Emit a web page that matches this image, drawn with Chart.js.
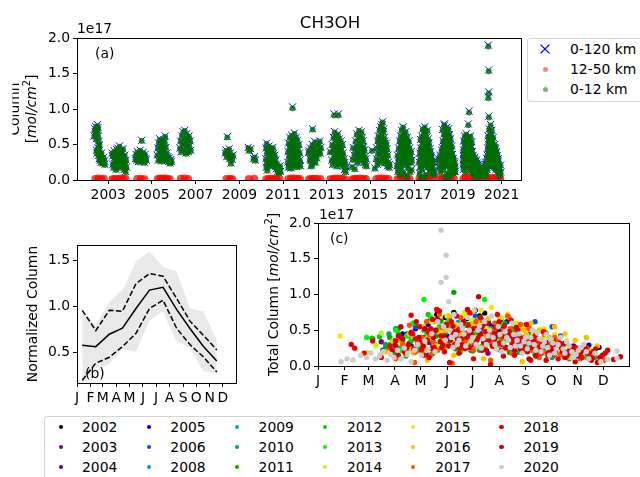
<!DOCTYPE html>
<html>
<head>
<meta charset="utf-8">
<script src="https://cdn.jsdelivr.net/npm/chart.js@4.4.1/dist/chart.umd.min.js"></script>
<style>
html, body { margin: 0; padding: 0; background: #fff; }
body { width: 640px; height: 477px; position: relative; overflow: hidden; font-family: "DejaVu Sans", sans-serif; }
canvas { position: absolute; left: 0; top: 0; }
.box { position: absolute; border: 1px solid #d4d4d4; border-radius: 3px; background: #fff; box-sizing: border-box; }
.lbl { position: absolute; font-size: 13.9px; line-height: 16px; white-space: nowrap; color: #000; }
.dot { position: absolute; border-radius: 50%; }
</style>
</head>
<body>
<canvas id="panelA" width="640" height="477"></canvas>
<canvas id="panelB" width="640" height="477"></canvas>
<canvas id="panelC" width="640" height="477"></canvas>
<div id="legendA" class="box" style="left:527px;top:38px;width:125px;height:64px;"></div>
<div id="legendYears" class="box" style="left:44px;top:416px;width:612px;height:70px;"></div>
<script>
// ---- measurement years and tick labels ----
const years = [2002, 2003, 2004, 2005, 2006, 2008, 2009, 2010, 2011, 2012, 2013, 2014, 2015, 2016, 2017, 2018, 2019, 2020];
const yearTicks = [2003, 2005, 2007, 2009, 2011, 2013, 2015, 2017, 2019, 2021];
const columnTicks = [0, 0.5, 1.0, 1.5, 2.0];
const normTicks = [0.5, 1.0, 1.5];
const monthLabels = ['J', 'F', 'M', 'A', 'M', 'J', 'J', 'A', 'S', 'O', 'N', 'D'];
const monthStartDays = [1, 32, 60, 91, 121, 152, 182, 213, 244, 274, 305, 335];
const seriesNames = ['0-120 km', '12-50 km', '0-12 km'];

// ---- columns per year: [day of year, 0-120 km column, 0-12 km column] (1e17 mol/cm2) ----
const col2002 = [[130,.62,.61],[140,.72,.70],[150,.68,.67],[160,.75,.74],[165,.58,.57],[175,.66,.65],[185,.78,.76],[190,.70,.69],[196,.74,.73],[200,.62,.61],[205,.55,.54],[210,.48,.47],[215,.50,.49],[170,.42,.41],[180,.38,.37],[192,.45,.44],[205,.35,.34],[215,.30,.29],[222,.42,.41],[225,.36,.35],[230,.28,.27],[240,.33,.32],[248,.25,.24],[255,.38,.37],[262,.30,.29],[270,.26,.25],[280,.24,.23],[290,.32,.31],[300,.27,.26],[310,.22,.21]];
const col2003 = [[65,.38,.37],[75,.34,.33],[77,.22,.21],[90,.18,.17],[98,.41,.40],[100,.27,.26],[108,.32,.31],[115,.20,.19],[120,.36,.35],[125,.25,.24],[130,.15,.14],[135,.30,.29],[140,.43,.42],[150,.35,.34],[160,.45,.44],[165,.28,.27],[172,.40,.39],[180,.22,.21],[188,.48,.47],[195,.33,.32],[200,.18,.17],[210,.42,.41],[218,.30,.29],[225,.25,.24],[232,.38,.37],[240,.20,.19],[248,.44,.43],[255,.32,.31],[262,.26,.25],[270,.15,.14],[278,.35,.34],[285,.22,.21],[292,.12,.11],[300,.28,.27],[305,.18,.17]];
const col2004 = [[90,.30,.29],[100,.36,.35],[110,.28,.27],[120,.40,.39],[130,.33,.32],[140,.26,.25],[150,.38,.37],[160,.31,.30],[170,.42,.41],[180,.29,.28],[195,.56,.55],[200,.35,.34],[210,.27,.26],[220,.39,.38],[230,.32,.31],[240,.25,.24],[250,.36,.35],[260,.30,.29],[270,.28,.27]];
const col2005 = [[90,.35,.34],[100,.45,.44],[108,.28,.27],[115,.52,.51],[122,.38,.37],[130,.58,.57],[138,.30,.29],[145,.48,.47],[152,.42,.41],[160,.55,.54],[165,.27,.26],[172,.36,.35],[180,.50,.49],[188,.44,.43],[195,.32,.31],[202,.57,.56],[210,.40,.39],[216,.53,.52],[222,.62,.61],[228,.34,.33],[235,.46,.45],[242,.28,.27],[250,.38,.37],[258,.30,.29],[268,.33,.32],[278,.26,.25],[290,.31,.30],[300,.27,.26],[306,.24,.23],[318,.29,.28],[330,.26,.25]];
const col2006 = [[105,.45,.44],[115,.55,.54],[125,.40,.39],[135,.62,.61],[145,.50,.49],[155,.68,.67],[165,.43,.42],[175,.58,.57],[185,.70,.69],[195,.52,.51],[205,.38,.37],[215,.65,.64],[225,.47,.46],[235,.57,.56],[245,.40,.39],[255,.62,.61],[265,.48,.47],[275,.55,.54],[285,.42,.41]];
const col2008 = [[130,.38,.37],[145,.42,.41],[155,.33,.32],[165,.61,.60],[175,.40,.39],[185,.36,.35],[195,.44,.43],[205,.30,.29],[215,.38,.37],[225,.24,.23],[235,.34,.33],[248,.29,.28],[260,.35,.34]];
const col2009 = [[150,.46,.45],[165,.42,.41],[190,.44,.43],[240,.30,.29],[255,.33,.32],[270,.28,.27]];
const col2010 = [[80,.30,.29],[84,.45,.44],[88,.18,.17],[92,.52,.51],[96,.25,.24],[100,.38,.37],[104,.14,.13],[108,.42,.41],[115,.22,.21],[122,.33,.32],[130,.48,.47],[138,.20,.19],[145,.36,.35],[152,.28,.27],[160,.44,.43],[168,.24,.23],[175,.40,.39],[182,.32,.31],[190,.22,.21],[198,.46,.45],[205,.30,.29],[212,.38,.37],[220,.26,.25],[228,.35,.34],[235,.19,.18],[245,.28,.27],[255,.16,.15],[265,.22,.21],[275,.12,.11],[285,.18,.17],[295,.10,.09],[305,.15,.14],[315,.20,.19],[325,.12,.11]];
const col2011 = [[80,.25,.24],[85,.40,.39],[90,.18,.17],[95,.52,.51],[100,.33,.32],[105,.22,.21],[110,.45,.44],[115,.60,.59],[120,.28,.27],[125,.38,.37],[130,.50,.49],[135,.17,.16],[140,.42,.41],[145,.63,.62],[150,.30,.29],[155,.55,.54],[160,1.03,1.01],[162,.24,.23],[168,.47,.46],[172,.36,.35],[178,.58,.57],[182,.21,.20],[188,.44,.43],[192,.66,.65],[198,.32,.31],[203,.52,.51],[208,.27,.26],[214,.40,.39],[220,.60,.59],[225,.19,.18],[230,.48,.47],[236,.35,.34],[242,.56,.55],[248,.26,.25],[254,.42,.41],[260,.31,.30],[266,.50,.49],[272,.22,.21],[278,.38,.37],[284,.28,.27],[290,.20,.19]];
const col2012 = [[64,.39,.38],[73,.41,.40],[85,.30,.29],[95,.45,.44],[102,.28,.27],[105,.20,.19],[110,.35,.34],[115,.38,.37],[118,.22,.21],[125,.50,.49],[130,.72,.71],[138,.27,.26],[148,.44,.43],[158,.33,.32],[168,.54,.53],[178,.25,.24],[188,.40,.39],[198,.31,.30],[208,.48,.47],[218,.37,.36],[228,.52,.51],[238,.42,.41],[248,.55,.54],[258,.38,.37],[268,.46,.45]];
const col2013 = [[58,.40,.39],[85,.28,.27],[92,.50,.49],[98,.22,.21],[105,.42,.41],[112,.60,.59],[118,.33,.32],[125,.93,.91],[128,.47,.46],[133,.68,.67],[138,.26,.25],[143,.55,.54],[148,.38,.37],[153,.62,.61],[158,.30,.29],[163,.48,.47],[168,.20,.19],[173,.57,.56],[178,.35,.34],[183,.45,.44],[188,.65,.64],[193,.28,.27],[196,.93,.91],[200,.52,.51],[205,.40,.39],[210,.24,.23],[215,.58,.57],[220,.36,.35],[226,.47,.46],[232,.30,.29],[238,.55,.54],[244,.22,.21],[250,.42,.41],[256,.33,.32],[262,.50,.49],[268,.27,.26],[275,.38,.37],[282,.20,.19],[290,.30,.29],[298,.15,.14],[306,.25,.24],[315,.12,.11],[325,.18,.17]];
const col2014 = [[59,.19,.18],[69,.29,.28],[75,.46,.45],[95,.35,.34],[105,.16,.15],[112,.42,.41],[120,.55,.54],[126,.30,.29],[132,.48,.47],[138,.65,.64],[144,.38,.37],[150,.25,.24],[156,.58,.57],[162,.44,.43],[168,.33,.32],[174,.70,.69],[180,.52,.51],[186,.28,.27],[192,.62,.61],[198,.40,.39],[204,.50,.49],[210,.35,.34],[216,.68,.67],[222,.45,.44],[229,.60,.59],[235,.30,.29],[241,.55,.54],[247,.38,.37],[253,.47,.46],[260,.25,.24],[267,.42,.41],[275,.33,.32],[283,.22,.21],[292,.30,.29],[300,.20,.19]];
const col2015 = [[27,.42,.41],[75,.17,.16],[100,.30,.29],[108,.45,.44],[115,.22,.21],[122,.55,.54],[128,.38,.37],[134,.62,.61],[140,.28,.27],[146,.50,.49],[152,.70,.69],[157,.35,.34],[162,.58,.57],[167,.45,.44],[172,.75,.74],[177,.25,.24],[182,.64,.63],[187,.40,.39],[192,.78,.77],[198,.52,.51],[204,.82,.81],[208,.33,.32],[213,.68,.67],[218,.47,.46],[223,.72,.71],[228,.30,.29],[233,.60,.59],[238,.42,.41],[243,.55,.54],[248,.24,.23],[254,.48,.47],[260,.36,.35],[266,.52,.51],[272,.28,.27],[278,.44,.43],[285,.20,.19],[292,.35,.34],[300,.25,.24],[310,.18,.17],[320,.22,.21]];
const col2016 = [[80,.20,.19],[88,.35,.34],[95,.12,.11],[102,.28,.27],[108,.45,.44],[110,.24,.23],[113,.18,.17],[118,.32,.31],[121,.36,.35],[124,.55,.54],[126,.22,.21],[129,.08,.07],[134,.40,.39],[137,.30,.29],[140,.62,.61],[142,.48,.47],[145,.25,.24],[150,.50,.49],[152,.34,.33],[155,.70,.69],[160,.15,.14],[162,.52,.51],[165,.45,.44],[170,.60,.59],[172,.42,.41],[175,.30,.29],[180,.75,.74],[182,.58,.57],[185,.38,.37],[187,.28,.27],[190,.55,.54],[195,.10,.09],[197,.46,.45],[200,.66,.65],[202,.36,.35],[205,.42,.41],[210,.58,.57],[212,.32,.31],[215,.22,.21],[220,.48,.47],[222,.40,.39],[225,.68,.67],[230,.35,.34],[232,.26,.25],[235,.52,.51],[240,.06,.05],[242,.50,.49],[245,.44,.43],[250,.60,.59],[252,.34,.33],[255,.28,.27],[260,.50,.49],[262,.38,.37],[266,.18,.17],[270,.26,.25],[272,.40,.39],[278,.55,.54],[282,.36,.35],[284,.30,.29],[290,.45,.44],[296,.12,.11],[302,.36,.35],[308,.25,.24],[315,.40,.39],[322,.15,.14],[328,.28,.27]];
const col2017 = [[85,.25,.24],[92,.10,.09],[98,.38,.37],[104,.18,.17],[110,.45,.44],[114,.05,.04],[100,.30,.29],[108,.57,.56],[115,.20,.19],[118,.32,.31],[122,.40,.39],[125,.26,.25],[128,.62,.61],[131,.44,.43],[133,.15,.14],[136,.34,.33],[138,.50,.49],[141,.22,.21],[143,.72,.71],[146,.54,.53],[148,.28,.27],[153,.58,.57],[156,.38,.37],[158,.04,.03],[161,.28,.27],[163,.45,.44],[166,.50,.49],[168,.68,.67],[173,.35,.34],[176,.42,.41],[178,.75,.74],[181,.32,.31],[183,.22,.21],[186,.62,.61],[188,.55,.54],[193,.64,.63],[196,.26,.25],[198,.40,.39],[201,.46,.45],[203,.08,.07],[206,.34,.33],[208,.60,.59],[213,.30,.29],[216,.40,.39],[218,.50,.49],[221,.24,.23],[223,.70,.69],[226,.52,.51],[228,.18,.17],[233,.46,.45],[236,.30,.29],[238,.58,.57],[243,.26,.25],[246,.38,.37],[248,.52,.51],[251,.22,.21],[254,.36,.35],[258,.32,.31],[260,.12,.11],[264,.20,.19],[266,.44,.43],[272,.30,.29],[276,.24,.23],[278,.40,.39],[282,.34,.33],[285,.16,.15],[292,.32,.31],[296,.26,.25],[300,.22,.21],[304,.18,.17],[308,.10,.09],[316,.25,.24],[324,.14,.13],[331,.12,.11],[336,.08,.07]];
const col2018 = [[40,.30,.29],[44,.25,.24],[55,.18,.17],[65,.35,.34],[75,.12,.11],[85,.28,.27],[95,.42,.41],[102,.20,.19],[105,.26,.25],[110,.71,.70],[112,.45,.44],[115,.38,.37],[118,.30,.29],[120,.55,.54],[122,.22,.21],[125,.15,.14],[128,.36,.35],[130,.48,.47],[133,.52,.51],[135,.65,.64],[137,.26,.25],[140,.79,.77],[143,.77,.76],[145,.42,.41],[147,.30,.29],[149,.20,.19],[151,.58,.57],[153,.36,.35],[155,.05,.04],[157,.62,.61],[159,.44,.43],[161,.30,.29],[163,.70,.69],[165,.50,.49],[167,.25,.24],[169,.38,.37],[171,.62,.61],[173,.24,.23],[175,.40,.39],[177,.56,.55],[179,.74,.73],[181,.44,.43],[183,.10,.09],[185,.30,.29],[187,.52,.51],[189,.40,.39],[191,.68,.67],[193,.22,.21],[195,.33,.32],[197,.48,.47],[199,.60,.59],[201,.36,.35],[203,.02,.01],[205,.28,.27],[207,.46,.45],[209,.54,.53],[211,.72,.71],[213,.32,.31],[215,.22,.21],[217,.42,.41],[219,.56,.55],[221,.26,.25],[223,.38,.37],[225,.48,.47],[227,.64,.63],[229,.36,.35],[231,.15,.14],[233,.28,.27],[235,.50,.49],[237,.40,.39],[240,.30,.29],[243,.22,.21],[245,.58,.57],[247,.34,.33],[250,.08,.07],[252,.28,.27],[255,.42,.41],[258,.36,.35],[260,.26,.25],[262,.18,.17],[265,.48,.47],[268,.30,.29],[270,.18,.17],[273,.24,.23],[276,.36,.35],[279,.20,.19],[282,.10,.09],[285,.26,.25],[288,.30,.29],[292,.14,.13],[295,.20,.19],[298,.22,.21],[302,.26,.25],[305,.16,.15],[310,.12,.11],[314,.24,.23],[318,.18,.17],[322,.12,.11]];
const col2019 = [[88,.22,.21],[92,.35,.34],[95,.15,.14],[97,.42,.41],[92,.28,.27],[98,.55,.54],[100,.38,.37],[104,.20,.19],[107,.30,.29],[110,.47,.46],[113,.24,.23],[116,.62,.61],[119,.40,.39],[121,.33,.32],[124,.28,.27],[126,.52,.51],[129,.36,.35],[131,.12,.11],[134,.24,.23],[136,.40,.39],[139,.50,.49],[141,.65,.64],[144,.34,.33],[146,.26,.25],[149,.42,.41],[151,.57,.56],[154,.28,.27],[156,.36,.35],[159,.56,.55],[161,.48,.47],[164,.38,.37],[166,.18,.17],[169,.30,.29],[171,.60,.59],[174,.46,.45],[176,.79,.77],[178,.26,.25],[180,.43,.42],[183,.52,.51],[185,.30,.29],[187,.36,.35],[189,.97,.95],[191,.44,.43],[193,.55,.54],[196,.32,.31],[198,.22,.21],[201,.40,.39],[203,.50,.49],[206,.28,.27],[208,.38,.37],[211,.46,.45],[213,.62,.61],[216,.32,.31],[218,.14,.13],[221,.26,.25],[223,.45,.44],[226,.40,.39],[228,.30,.29],[231,.22,.21],[233,.54,.53],[236,.34,.33],[238,.24,.23],[241,.28,.27],[243,.40,.39],[246,.20,.19],[248,.10,.09],[251,.26,.25],[253,.34,.33],[256,.14,.13],[258,.20,.19],[261,.22,.21],[263,.30,.29],[266,.30,.29],[268,.08,.07],[271,.18,.17],[273,.26,.25],[276,.22,.21],[278,.16,.15],[281,.28,.27],[284,.32,.31],[287,.20,.19],[290,.12,.11],[293,.16,.15],[296,.24,.23],[299,.26,.25],[302,.06,.05],[305,.14,.13],[308,.18,.17],[311,.22,.21],[313,.28,.27],[316,.18,.17],[318,.10,.09],[321,.08,.07],[323,.20,.19],[326,.24,.23],[328,.05,.04],[331,.12,.11],[334,.15,.14],[337,.18,.17],[340,.22,.21],[347,.09,.08],[355,.13,.12]];
const col2020 = [[28,.06,.05],[35,.10,.09],[42,.085,.08],[51,.15,.14],[58,.12,.11],[63,.18,.17],[68,.10,.09],[73,.14,.13],[77,.20,.19],[82,.08,.07],[86,.16,.15],[90,.12,.11],[94,.22,.21],[98,.10,.09],[102,.25,.24],[106,.18,.17],[110,.06,.05],[114,.22,.21],[118,.30,.29],[122,.15,.14],[126,.35,.34],[130,.24,.23],[134,.45,.44],[138,.20,.19],[141,.62,.61],[145,1.90,1.88],[145,1.17,1.15],[148,.55,.54],[150,.36,.35],[151,1.55,1.53],[151,1.24,1.22],[154,.90,.88],[155,.50,.49],[157,.40,.39],[159,.26,.25],[160,.72,.71],[162,.44,.43],[164,.30,.29],[166,.36,.35],[168,.58,.57],[170,.52,.51],[172,.45,.44],[174,.28,.27],[176,.68,.67],[178,.50,.49],[180,.35,.34],[182,.40,.39],[184,.78,.77],[186,.30,.29],[188,.50,.49],[190,.56,.55],[192,.25,.24],[194,.38,.37],[196,.62,.61],[198,.30,.29],[200,.42,.41],[202,.50,.49],[204,.70,.69],[206,.40,.39],[208,.30,.29],[210,.24,.23],[212,.55,.54],[214,.44,.43],[216,.20,.19],[218,.32,.31],[220,.48,.47],[222,.40,.39],[224,.36,.35],[226,.26,.25],[228,.60,.59],[230,.44,.43],[232,.28,.27],[234,.36,.35],[236,.45,.44],[238,.28,.27],[240,.18,.17],[242,.34,.33],[244,.40,.39],[246,.24,.23],[248,.32,.31],[250,.40,.39],[252,.50,.49],[254,.30,.29],[256,.22,.21],[258,.46,.45],[260,.38,.37],[262,.20,.19],[264,.28,.27],[266,.34,.33],[268,.44,.43],[270,.26,.25],[272,.15,.14],[274,.38,.37],[276,.32,.31],[278,.18,.17],[280,.24,.23],[282,.30,.29],[285,.40,.39],[288,.24,.23],[290,.18,.17],[292,.34,.33],[295,.28,.27],[298,.20,.19],[300,.12,.11],[303,.16,.15],[306,.22,.21],[309,.26,.25],[312,.30,.29],[315,.20,.19],[318,.10,.09],[325,.18,.17],[332,.06,.05],[340,.09,.08],[351,.21,.20],[351,.11,.10]];
const yearColumns = [col2002, col2003, col2004, col2005, col2006, col2008, col2009, col2010, col2011, col2012, col2013, col2014, col2015, col2016, col2017, col2018, col2019, col2020];

// ---- 12-50 km partial columns: [year, day of year, column] ----
const stratColumns = [
  [2002,150,.015],[2002,200,.02],[2002,250,.012],[2002,290,.018],
  [2003,70,.012],[2003,110,.018],[2003,160,.015],[2003,210,.02],[2003,250,.014],[2003,290,.016],
  [2004,120,.015],[2004,180,.018],[2004,240,.012],
  [2005,100,.014],[2005,140,.02],[2005,180,.016],[2005,220,.022],[2005,260,.015],[2005,300,.012],
  [2006,120,.016],[2006,180,.02],[2006,240,.015],
  [2008,150,.015],[2008,210,.018],[2008,250,.012],
  [2009,160,.014],[2009,250,.016],
  [2010,85,.012],[2010,130,.016],[2010,170,.018],[2010,210,.015],[2010,260,.014],[2010,310,.012],
  [2011,90,.015],[2011,140,.02],[2011,190,.022],[2011,240,.018],[2011,285,.014],
  [2012,70,.012],[2012,110,.015],[2012,150,.018],[2012,200,.016],[2012,260,.014],
  [2013,60,.012],[2013,110,.018],[2013,160,.02],[2013,210,.018],[2013,260,.016],[2013,310,.012],
  [2014,65,.012],[2014,100,.015],[2014,140,.018],[2014,190,.02],[2014,240,.017],[2014,290,.013],
  [2015,100,.015],[2015,150,.02],[2015,200,.022],[2015,250,.018],[2015,300,.014],
  [2016,90,.014],[2016,140,.018],[2016,190,.025],[2016,240,.02],[2016,290,.016],
  [2017,90,.015],[2017,125,.02],[2017,160,.025],[2017,210,.03],[2017,260,.022],[2017,310,.015],
  [2018,50,.015],[2018,100,.022],[2018,150,.03],[2018,200,.035],[2018,250,.025],[2018,300,.018],
  [2019,95,.018],[2019,130,.028],[2019,180,.035],[2019,230,.025],[2019,280,.018],[2019,330,.014],
  [2020,40,.012],[2020,100,.018],[2020,150,.028],[2020,200,.03],[2020,250,.024],[2020,300,.018],[2020,345,.012]
];

// ---- normalized monthly climatology ----
const climDays = [13, 44, 75, 105, 136, 167, 198, 229, 260, 290, 321];
const normMean = [0.58, 0.565, 0.70, 0.765, 0.98, 1.18, 1.21, 0.97, 0.76, 0.57, 0.41];
const normUpper = [0.96, 0.74, 0.96, 0.95, 1.25, 1.36, 1.33, 1.09, 0.84, 0.69, 0.53];
const normLower = [0.20, 0.385, 0.45, 0.565, 0.71, 0.98, 1.07, 0.765, 0.585, 0.455, 0.29];
const normMax = [0.97, 0.80, 1.05, 1.18, 1.49, 1.60, 1.43, 1.38, 0.98, 0.95, 0.64];
const normMin = [0.15, 0.33, 0.37, 0.54, 0.51, 0.85, 0.95, 0.62, 0.55, 0.30, 0.27];

// ---- styling ----
const yearColors = ['#000000','#7a008b','#58009f','#0000c5','#0054dd','#0095dd','#00aaa8','#00a668','#00a700','#00cf00','#00f700','#b0ff00','#f0ea00','#ffbd00','#ff5100','#e90000','#cf0000','#cccccc'];
const FAMILY = '"DejaVu Sans"';
const FS = 13.9;
const tickFont = { family: FAMILY, size: FS };

const toDecimalYear = (yr, day) => yr + (day - 1) / 365;
const xy = (xs, ys) => xs.map((x, i) => ({ x: x, y: ys[i] }));

function axis(min, max, tickValues, fmt, fitKey, fitSize) {
  return {
    type: 'linear', min: min, max: max,
    afterBuildTicks: ax => { ax.ticks = tickValues.map(v => ({ value: v })); },
    afterFit: s => { s[fitKey] = fitSize; },
    grid: { display: true, drawOnChartArea: false, drawTicks: true, tickLength: 4, tickWidth: 1, tickColor: '#000' },
    border: { display: true, color: '#000', width: 1 },
    ticks: { color: '#000', font: tickFont, autoSkip: false, maxRotation: 0, minRotation: 0, padding: 3, callback: fmt }
  };
}

// text drawn on each panel, positioned from its chart area
function put(ctx, str, x, y, size, align, style) {
  ctx.font = (style || '') + ' ' + size + 'px ' + FAMILY;
  ctx.textAlign = align || 'left';
  ctx.textBaseline = 'alphabetic';
  ctx.fillStyle = '#000';
  ctx.fillText(str, x, y);
}
function rotatedRich(ctx, parts, x, y) {
  ctx.save();
  ctx.translate(x, y);
  ctx.rotate(-Math.PI / 2);
  ctx.textBaseline = 'alphabetic';
  ctx.textAlign = 'left';
  ctx.fillStyle = '#000';
  let total = 0;
  parts.forEach(p => { ctx.font = (p.it ? 'italic ' : '') + p.s + 'px ' + FAMILY; p.w = ctx.measureText(p.t).width; total += p.w; });
  let cx = -total / 2;
  parts.forEach(p => { ctx.font = (p.it ? 'italic ' : '') + p.s + 'px ' + FAMILY; ctx.fillText(p.t, cx, -(p.rise || 0)); cx += p.w; });
  ctx.restore();
}
const unitParts = [{ t: '[', s: FS }, { t: 'mol/cm', s: FS, it: true }, { t: '2', s: 9.7, rise: 5.5 }, { t: ']', s: FS }];

const annotations = {
  panelA: (ctx, a) => {
    put(ctx, 'CH3OH', 330, 28, 16.7, 'center');
    put(ctx, '1e17', a.left, a.top - 5, FS, 'left');
    put(ctx, '(a)', a.left + 18, a.top + 20, FS, 'left');
    ctx.save();
    ctx.beginPath(); ctx.rect(12.5, 0, 100, 477); ctx.clip();
    rotatedRich(ctx, [{ t: 'Column', s: FS }], a.left - 58, (a.top + a.bottom) / 2);
    ctx.restore();
    rotatedRich(ctx, unitParts, a.left - 41.5, (a.top + a.bottom) / 2);
  },
  panelB: (ctx, a) => {
    put(ctx, '(b)', a.left + 8, a.bottom - 5, FS, 'left');
    rotatedRich(ctx, [{ t: 'Normalized Column', s: FS }], a.left - 40.5, (a.top + a.bottom) / 2);
  },
  panelC: (ctx, a) => {
    put(ctx, '1e17', a.left + 1, a.top - 4, FS, 'left');
    put(ctx, '(c)', a.left + 12, a.top + 20, FS, 'left');
    rotatedRich(ctx, [{ t: 'Total Column ', s: FS }].concat(unitParts), a.left - 40.5, (a.top + a.bottom) / 2);
  }
};
const panelPlugin = {
  id: 'panelFrame',
  afterDraw(chart) {
    const ctx = chart.ctx, a = chart.chartArea;
    ctx.save();
    ctx.strokeStyle = '#000';
    ctx.lineWidth = 1;
    ctx.strokeRect(Math.round(a.left) + 0.5, Math.round(a.top) + 0.5, Math.round(a.right - a.left), Math.round(a.bottom - a.top));
    ctx.restore();
    const f = annotations[chart.canvas.id];
    if (f) { ctx.save(); f(ctx, a); ctx.restore(); }
  }
};

const baseOptions = (padding, scales) => ({
  responsive: false, animation: false, devicePixelRatio: 1, events: [],
  layout: { padding: padding },
  plugins: { legend: { display: false }, tooltip: { enabled: false }, title: { display: false } },
  scales: scales
});

// ---- panel (a): time series of partial and total columns ----
const totalPts = [], tropoPts = [];
years.forEach((yr, i) => {
  yearColumns[i].forEach(r => {
    totalPts.push({ x: toDecimalYear(yr, r[0]), y: r[1] });
    tropoPts.push({ x: toDecimalYear(yr, r[0]), y: r[2] });
  });
});
const stratPts = stratColumns.map(r => ({ x: toDecimalYear(r[0], r[1]), y: r[2] }));

new Chart(document.getElementById('panelA'), {
  type: 'scatter',
  data: {
    datasets: [
      { label: seriesNames[2], data: tropoPts, order: 0, pointRadius: 2.9, pointBackgroundColor: 'rgba(0,110,0,0.82)', pointBorderWidth: 0 },
      { label: seriesNames[1], data: stratPts, order: 1, clip: 0, pointRadius: 4, pointBackgroundColor: 'rgba(255,0,0,0.75)', pointBorderWidth: 0 },
      { label: seriesNames[0], data: totalPts, order: 2, pointStyle: 'crossRot', pointRadius: 5, pointBorderColor: '#0000ff', pointBorderWidth: 1 }
    ]
  },
  options: baseOptions({ left: 0, right: 119, top: 38, bottom: 267 }, {
    x: axis(2001.57, 2021.89, yearTicks, v => String(v), 'height', 30),
    y: axis(0, 2.0, columnTicks, v => v.toFixed(1), 'width', 77)
  }),
  plugins: [panelPlugin]
});

// ---- panel (b): normalized seasonal cycle ----
new Chart(document.getElementById('panelB'), {
  type: 'line',
  data: {
    datasets: [
      { data: xy(climDays, normMean), borderColor: '#000', borderWidth: 1.5, pointRadius: 0, fill: false, tension: 0, order: 0 },
      { data: xy(climDays, normUpper), borderColor: '#000', borderWidth: 1.5, borderDash: [5.5, 2.4], pointRadius: 0, fill: false, tension: 0, order: 1 },
      { data: xy(climDays, normLower), borderColor: '#000', borderWidth: 1.5, borderDash: [5.5, 2.4], pointRadius: 0, fill: false, tension: 0, order: 2 },
      { data: xy(climDays, normMax), borderWidth: 0, borderColor: 'rgba(0,0,0,0)', backgroundColor: 'rgba(211,211,211,0.5)', pointRadius: 0, fill: '+1', tension: 0, order: 3 },
      { data: xy(climDays, normMin), borderWidth: 0, borderColor: 'rgba(0,0,0,0)', pointRadius: 0, fill: false, tension: 0, order: 4 }
    ]
  },
  options: baseOptions({ left: 0, right: 404, top: 245, bottom: 64 }, {
    x: axis(1, 365, monthStartDays, (v, i) => monthLabels[i], 'height', 30),
    y: axis(0.17, 1.67, normTicks, v => v.toFixed(1), 'width', 77)
  }),
  plugins: [panelPlugin]
});

// ---- panel (c): total column by day of year, coloured by year ----
new Chart(document.getElementById('panelC'), {
  type: 'scatter',
  data: {
    datasets: years.map((yr, i) => ({
      label: String(yr),
      data: yearColumns[i].map(r => ({ x: r[0], y: r[1] })),
      order: years.length - i,
      pointRadius: 2.7, pointBorderWidth: 0, pointBackgroundColor: yearColors[i]
    }))
  },
  options: baseOptions({ left: 250, right: 11, top: 223, bottom: 81 }, {
    x: axis(1, 365, monthStartDays, (v, i) => monthLabels[i], 'height', 30),
    y: axis(0, 2.0, columnTicks, v => v.toFixed(1), 'width', 68)
  }),
  plugins: [panelPlugin]
});

// ---- legends ----
function addLabel(parent, str, left, centerY) {
  const d = document.createElement('div');
  d.className = 'lbl';
  d.textContent = str;
  d.style.left = left + 'px';
  d.style.top = (centerY - 8) + 'px';
  parent.appendChild(d);
}
function addDot(parent, cx, cy, diam, color) {
  const d = document.createElement('div');
  d.className = 'dot';
  d.style.left = (cx - diam / 2) + 'px';
  d.style.top = (cy - diam / 2) + 'px';
  d.style.width = diam + 'px';
  d.style.height = diam + 'px';
  d.style.background = color;
  parent.appendChild(d);
}
const legA = document.getElementById('legendA');
(function () {
  const svgNS = 'http://www.w3.org/2000/svg';
  const svg = document.createElementNS(svgNS, 'svg');
  svg.setAttribute('width', '12'); svg.setAttribute('height', '12');
  svg.style.position = 'absolute'; svg.style.left = '11px'; svg.style.top = '4px';
  [['1.6', '1.6', '10.4', '10.4'], ['1.6', '10.4', '10.4', '1.6']].forEach(c => {
    const l = document.createElementNS(svgNS, 'line');
    l.setAttribute('x1', c[0]); l.setAttribute('y1', c[1]); l.setAttribute('x2', c[2]); l.setAttribute('y2', c[3]);
    l.setAttribute('stroke', '#0000ff'); l.setAttribute('stroke-width', '1.3');
    svg.appendChild(l);
  });
  legA.appendChild(svg);
})();
addDot(legA, 17, 30, 5, 'rgba(255,0,0,0.5)');
addDot(legA, 17, 50, 5, 'rgba(0,128,0,0.55)');
seriesNames.forEach((n, i) => addLabel(legA, n, 42, 10 + 20 * i));

const legY = document.getElementById('legendYears');
years.forEach((yr, i) => {
  const col = Math.floor(i / 3), row = i % 3;
  addDot(legY, 16 + 88.1 * col, 10 + 20.2 * row, 4.2, yearColors[i]);
  addLabel(legY, String(yr), 37 + 88.3 * col, 10 + 20.2 * row);
});
</script>
</body>
</html>
